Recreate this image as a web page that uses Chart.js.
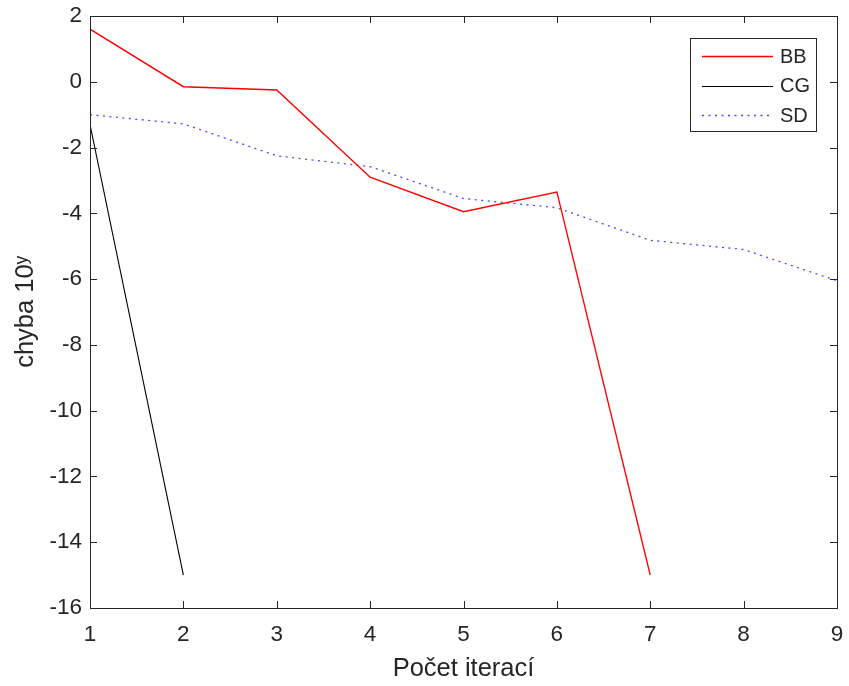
<!DOCTYPE html>
<html>
<head>
<meta charset="utf-8">
<script src="https://cdn.jsdelivr.net/npm/chart.js@4.4.1/dist/chart.umd.min.js"></script>
<style>
  html, body { margin: 0; padding: 0; background: #fff; }
  #wrap { width: 849px; height: 686px; }
</style>
</head>
<body>
<div id="wrap"><canvas id="c" width="849" height="686"></canvas></div>
<script>
// ---- data ----
const iterations = [1, 2, 3, 4, 5, 6, 7, 8, 9];
const bbValues = [1.6, -0.15, -0.25, -2.9, -3.95, -3.35, -15];
const cgValues = [-1.3, -15];
const sdValues = [-1.0, -1.28, -2.25, -2.58, -3.55, -3.83, -4.82, -5.1, -6.05];
const seriesNames = ['BB', 'CG', 'SD'];
const xTicks = [1, 2, 3, 4, 5, 6, 7, 8, 9];
const yTicks = [2, 0, -2, -4, -6, -8, -10, -12, -14, -16];
const xTitle = 'Počet iterací';
const yTitle = 'chyba 10ʸ';

const toPoints = (vals) => vals.map((v, i) => ({ x: iterations[i], y: v }));

const FONT = "'Liberation Sans', Arial, Helvetica, sans-serif";
const AXIS_COLOR = '#262626';

const frameTicks = {
  id: 'frameTicks',
  afterDatasetsDraw(chart) {
    const { ctx, chartArea: a, scales: { x, y } } = chart;
    ctx.save();
    ctx.strokeStyle = AXIS_COLOR;
    ctx.lineWidth = 1;
    const L = 7;
    ctx.beginPath();
    xTicks.forEach(v => {
      const px = Math.round(x.getPixelForValue(v)) + 0.5;
      ctx.moveTo(px, a.bottom); ctx.lineTo(px, a.bottom - L);
      ctx.moveTo(px, a.top); ctx.lineTo(px, a.top + L);
    });
    yTicks.forEach(v => {
      const py = Math.round(y.getPixelForValue(v)) + 0.5;
      ctx.moveTo(a.left, py); ctx.lineTo(a.left + L, py);
      ctx.moveTo(a.right, py); ctx.lineTo(a.right - L, py);
    });
    ctx.stroke();
    ctx.strokeRect(Math.round(a.left) + 0.5, Math.round(a.top) + 0.5,
                   Math.round(a.right - a.left), Math.round(a.bottom - a.top));
    ctx.restore();
  }
};

const boxLegend = {
  id: 'boxLegend',
  afterDraw(chart) {
    const { ctx } = chart;
    const bx = 690.5, by = 38.5, bw = 126, bh = 93;
    ctx.save();
    ctx.fillStyle = '#fff';
    ctx.fillRect(bx, by, bw, bh);
    ctx.strokeStyle = AXIS_COLOR;
    ctx.lineWidth = 1;
    ctx.strokeRect(bx, by, bw, bh);
    ctx.font = '20px ' + FONT;
    ctx.textBaseline = 'middle';
    chart.data.datasets.forEach((ds, i) => {
      const yy = 56 + i * 29.7;
      ctx.beginPath();
      ctx.strokeStyle = ds.borderColor;
      ctx.lineWidth = ds.borderWidth;
      ctx.setLineDash(ds.borderDash || []);
      ctx.moveTo(702, Math.round(yy) + 0.5);
      ctx.lineTo(773, Math.round(yy) + 0.5);
      ctx.stroke();
      ctx.setLineDash([]);
      ctx.fillStyle = AXIS_COLOR;
      ctx.fillText(ds.label, 780, yy + 1);
    });
    ctx.restore();
  }
};

new Chart(document.getElementById('c'), {
  type: 'line',
  data: {
    datasets: [
      { label: seriesNames[0], data: toPoints(bbValues), borderColor: '#ff0000', borderWidth: 1.4, pointRadius: 0, tension: 0, fill: false },
      { label: seriesNames[1], data: toPoints(cgValues), borderColor: '#000000', borderWidth: 1.1, pointRadius: 0, tension: 0, fill: false },
      { label: seriesNames[2], data: toPoints(sdValues), borderColor: 'rgba(40,40,255,0.85)', borderWidth: 1.3, borderDash: [2, 4.5], pointRadius: 0, tension: 0, fill: false }
    ]
  },
  options: {
    responsive: false,
    animation: false,
    devicePixelRatio: 1,
    layout: { padding: { top: 16, right: 12, left: 0, bottom: 0 } },
    plugins: { legend: { display: false }, tooltip: { enabled: false } },
    scales: {
      x: {
        type: 'linear', min: 1, max: 9,
        afterFit(s) { s.height = 78; s.paddingLeft = 0; s.paddingRight = 0; },
        afterBuildTicks(s) { s.ticks = xTicks.map(v => ({ value: v })); },
        grid: { display: false, drawTicks: false },
        border: { display: false },
        ticks: { padding: 13, color: AXIS_COLOR, font: { family: FONT, size: 22.5 }, maxRotation: 0 },
        title: { display: true, text: xTitle, color: AXIS_COLOR, font: { family: FONT, size: 25.5 }, padding: { top: 0, bottom: 1.5 } }
      },
      y: {
        type: 'linear', min: -16, max: 2,
        afterFit(s) { s.width = 90; s.paddingTop = 0; s.paddingBottom = 0; },
        afterBuildTicks(s) { s.ticks = yTicks.map(v => ({ value: v })); },
        grid: { display: false, drawTicks: false },
        border: { display: false },
        ticks: { padding: 8, color: AXIS_COLOR, font: { family: FONT, size: 22.5 } },
        title: { display: true, text: yTitle, color: AXIS_COLOR, font: { family: FONT, size: 25.5 }, padding: { top: 11, bottom: 0 } }
      }
    }
  },
  plugins: [frameTicks, boxLegend]
});
</script>
</body>
</html>
